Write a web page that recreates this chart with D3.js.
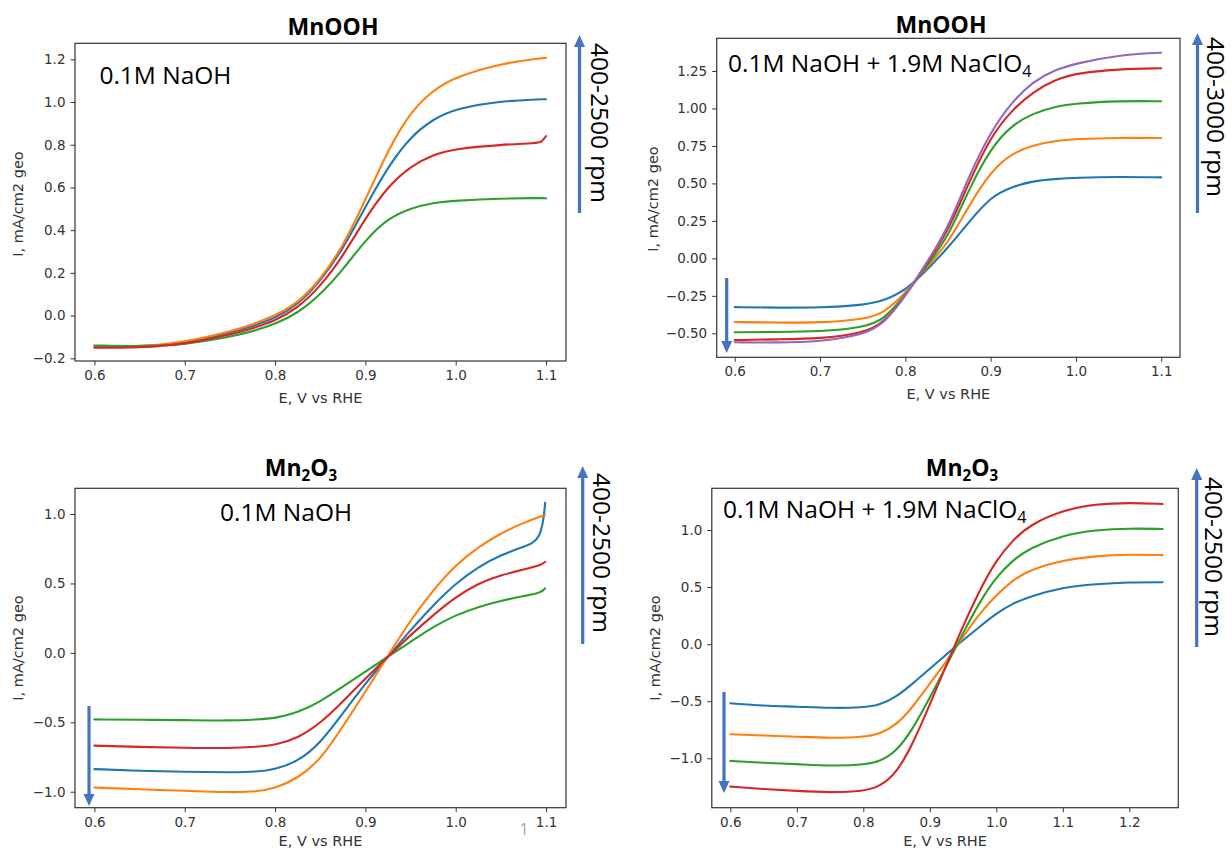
<!DOCTYPE html>
<html><head><meta charset="utf-8">
<script src="https://cdn.jsdelivr.net/npm/d3@7"></script>
<style>body{margin:0;background:#fff} svg{display:block}</style>
</head><body><svg id="c" width="1232" height="850"></svg>
<script>
// ---------- DATA ----------
// Panel A: MnOOH, 0.1M NaOH
const eA = [0.6,0.65,0.7,0.75,0.775,0.8,0.825,0.85,0.875,0.9,0.925,0.95,0.975,1.0,1.05,1.09,1.095,1.1];
const aBlue   = [-0.145,-0.145,-0.13,-0.082,-0.05,-0.012,0.05,0.16,0.31,0.51,0.697,0.838,0.92,0.97,1.005,1.012,1.013,1.013];
const aOrange = [-0.145,-0.145,-0.125,-0.075,-0.042,0.0,0.058,0.167,0.323,0.541,0.775,0.955,1.056,1.118,1.18,1.203,1.205,1.207];
const aGreen  = [-0.14,-0.145,-0.137,-0.1,-0.074,-0.04,0.011,0.097,0.214,0.354,0.456,0.503,0.529,0.538,0.549,0.55,0.55,0.549];
const aRed    = [-0.15,-0.15,-0.135,-0.09,-0.06,-0.025,0.035,0.136,0.277,0.457,0.605,0.699,0.754,0.782,0.8,0.808,0.812,0.84];

// Panel B: MnOOH, 0.1M NaOH + 1.9M NaClO4
const eB = [0.6,0.65,0.7,0.75,0.775,0.8,0.825,0.85,0.875,0.9,0.925,0.95,0.975,1.0,1.05,1.1];
const bBlue   = [-0.325,-0.329,-0.329,-0.313,-0.282,-0.215,-0.08,0.07,0.245,0.411,0.478,0.516,0.529,0.538,0.545,0.54];
const bOrange = [-0.425,-0.429,-0.429,-0.407,-0.367,-0.233,-0.06,0.1,0.356,0.578,0.701,0.756,0.783,0.797,0.805,0.803];
const bGreen  = [-0.493,-0.491,-0.489,-0.462,-0.411,-0.244,-0.05,0.14,0.467,0.734,0.89,0.968,1.012,1.034,1.05,1.048];
const bRed    = [-0.545,-0.54,-0.536,-0.5,-0.433,-0.251,-0.04,0.18,0.512,0.812,0.99,1.112,1.19,1.235,1.263,1.268];
const bPurple = [-0.56,-0.562,-0.556,-0.511,-0.438,-0.251,-0.03,0.2,0.556,0.845,1.045,1.18,1.257,1.3,1.357,1.372];

// Panel C: Mn2O3, 0.1M NaOH
const eC = [0.6,0.65,0.7,0.75,0.78,0.8,0.825,0.85,0.875,0.9,0.925,0.95,0.975,1.0,1.025,1.05,1.075,1.095,1.099];
const cBlue   = [-0.837,-0.85,-0.856,-0.861,-0.857,-0.839,-0.784,-0.652,-0.436,-0.22,-0.028,0.164,0.344,0.5,0.62,0.705,0.764,0.81,1.08];
const cOrange = [-0.97,-0.983,-0.993,-1.005,-1.0,-0.976,-0.904,-0.772,-0.532,-0.28,-0.02,0.236,0.452,0.633,0.764,0.861,0.937,0.985,0.993];
const cGreen  = [-0.479,-0.482,-0.484,-0.489,-0.479,-0.472,-0.431,-0.352,-0.244,-0.136,-0.028,0.08,0.188,0.272,0.332,0.375,0.409,0.433,0.465];
const cRed    = [-0.668,-0.678,-0.683,-0.688,-0.676,-0.664,-0.616,-0.508,-0.352,-0.184,-0.028,0.128,0.272,0.404,0.5,0.56,0.6,0.633,0.656];

// Panel D: Mn2O3, 0.1M NaOH + 1.9M NaClO4
const eD = [0.6,0.65,0.7,0.75,0.8,0.825,0.85,0.875,0.9,0.925,0.95,0.975,1.0,1.025,1.05,1.1,1.15,1.2,1.25];
const dBlue   = [-0.518,-0.54,-0.547,-0.561,-0.556,-0.532,-0.46,-0.343,-0.215,-0.09,0.035,0.153,0.27,0.358,0.416,0.498,0.527,0.542,0.542];
const dOrange = [-0.79,-0.8,-0.81,-0.824,-0.815,-0.786,-0.708,-0.547,-0.343,-0.153,0.066,0.27,0.431,0.562,0.65,0.737,0.772,0.787,0.78];
const dGreen  = [-1.023,-1.04,-1.05,-1.067,-1.058,-1.029,-0.941,-0.737,-0.47,-0.19,0.1,0.37,0.59,0.737,0.84,0.956,1.0,1.015,1.009];
const dRed    = [-1.248,-1.27,-1.286,-1.3,-1.29,-1.248,-1.13,-0.868,-0.53,-0.18,0.16,0.475,0.737,0.912,1.044,1.175,1.228,1.239,1.228];

// tick values
const xTicksABC = [0.6,0.7,0.8,0.9,1.0,1.1];
const xTicksD = [0.6,0.7,0.8,0.9,1.0,1.1,1.2];
const yTicksA = [-0.2,0.0,0.2,0.4,0.6,0.8,1.0,1.2];
const yTicksB = [-0.5,-0.25,0.0,0.25,0.5,0.75,1.0,1.25];
const yTicksCD = [-1.0,-0.5,0.0,0.5,1.0];

const titles = ["MnOOH","MnOOH","Mn2O3","Mn2O3"];
const notes = ["0.1M NaOH","0.1M NaOH + 1.9M NaClO4","0.1M NaOH","0.1M NaOH + 1.9M NaClO4"];
const rpmLabels = ["400-2500 rpm","400-3000 rpm","400-2500 rpm","400-2500 rpm"];
const xLabel = "E, V vs RHE";
const yLabel = "I, mA/cm2 geo";

// ---------- STYLE ----------
const C = {blue:"#1f77b4", orange:"#ff7f0e", green:"#2ca02c", red:"#d62728", purple:"#9467bd"};
const ARROW = "#4472c4";
const svg = d3.select("#c");

function subText(t, str, size){
  // digits directly following a letter are drawn as subscripts (Mn2O3, NaClO4)
  const tokens = [];
  let buf = "";
  for (let i=0;i<str.length;i++){
    const ch = str[i];
    const prev = str[i-1]||"";
    const isSub = /\d/.test(ch) && /[A-Za-z]/.test(prev);
    if (isSub){ if(buf) tokens.push({t:buf,s:false}); buf=""; tokens.push({t:ch,s:true}); }
    else buf += ch;
  }
  if(buf) tokens.push({t:buf,s:false});
  let down = false;
  tokens.forEach(tk=>{
    const ts = t.append("tspan").text(tk.t);
    if (tk.s){ ts.attr("font-size", size*0.66).attr("dy", size*0.22); down = true; }
    else if (down){ ts.attr("dy", -size*0.22); down = false; }
  });
}

function arrow(x, y0, y1){
  const dir = Math.sign(y1 - y0);
  const headL = 12, headW = 5.5;
  svg.append("line").attr("x1",x).attr("x2",x).attr("y1",y0).attr("y2",y1 - dir*headL)
    .attr("stroke",ARROW).attr("stroke-width",3.2);
  svg.append("path").attr("d",`M${x},${y1} L${x-headW},${y1-dir*headL} L${x+headW},${y1-dir*headL} Z`)
    .attr("fill",ARROW);
}

function panel(cfg){
  const x = d3.scaleLinear().domain(cfg.xd).range([cfg.l, cfg.r]);
  const y = d3.scaleLinear().domain(cfg.yd).range([cfg.b, cfg.t]);
  const g = svg.append("g");
  const fmt = d3.format(cfg.fmt);

  const xa = g.append("g").attr("transform",`translate(0,${cfg.b})`)
    .call(d3.axisBottom(x).tickValues(cfg.xt).tickFormat(d3.format(".1f")).tickSize(4.5).tickPadding(5));
  const ya = g.append("g").attr("transform",`translate(${cfg.l},0)`)
    .call(d3.axisLeft(y).tickValues(cfg.yt).tickFormat(fmt).tickSize(4.5).tickPadding(5));
  [xa,ya].forEach(a=>{
    a.select(".domain").remove();
    a.selectAll("line").attr("stroke","#333");
    a.selectAll("text").attr("font-family","DejaVu Sans").attr("font-size",13.5).attr("fill","#333");
  });

  const line = d3.line().x(d=>x(d[0])).y(d=>y(d[1])).curve(d3.curveBasis);
  cfg.series.forEach(s=>{
    g.append("path").datum(cfg.e.map((e,i)=>[e,s.v[i]]))
      .attr("d",line).attr("fill","none").attr("stroke",s.c).attr("stroke-width",2.1)
      .attr("stroke-linejoin","round").attr("stroke-linecap","round");
  });

  g.append("rect").attr("x",cfg.l).attr("y",cfg.t).attr("width",cfg.r-cfg.l).attr("height",cfg.b-cfg.t)
    .attr("fill","none").attr("stroke","#333").attr("stroke-width",1.2);

  g.append("text").attr("x",(cfg.l+cfg.r)/2).attr("y",cfg.xly).attr("text-anchor","middle")
    .attr("font-family","DejaVu Sans").attr("font-size",14.5).attr("fill","#333").text(xLabel);
  g.append("text").attr("transform",`translate(${cfg.ylx},${cfg.yly}) rotate(-90)`)
    .attr("text-anchor","middle").attr("dominant-baseline","central")
    .attr("font-family","DejaVu Sans").attr("font-size",14.5).attr("fill","#333").text(yLabel);

  const tt = g.append("text").attr("x",cfg.tx).attr("y",cfg.ty).attr("text-anchor","middle")
    .attr("font-family","Open Sans").attr("font-weight","bold").attr("font-size",23).attr("fill","#000");
  subText(tt, cfg.title, 23);

  const nt = g.append("text").attr("x",cfg.nx).attr("y",cfg.ny).attr("text-anchor",cfg.na)
    .attr("font-family","Open Sans").attr("font-size",24.5).attr("fill","#000");
  subText(nt, cfg.note, 24.5);

  g.append("text").attr("transform",`translate(${cfg.rx},${cfg.ry}) rotate(90)`)
    .attr("text-anchor","middle").attr("dominant-baseline","central")
    .attr("font-family","Open Sans").attr("font-size",24.5).attr("fill","#000").text(cfg.rpm);

  arrow(cfg.ua[0], cfg.ua[1], cfg.ua[2]);
  if (cfg.da) arrow(cfg.da[0], cfg.da[1], cfg.da[2]);
}

panel({l:75,r:566,t:43.3,b:361, xd:[0.5785,1.1221], yd:[-0.2126,1.275], xt:xTicksABC, yt:yTicksA, fmt:".1f",
  e:eA, series:[{v:aBlue,c:C.blue},{v:aOrange,c:C.orange},{v:aGreen,c:C.green},{v:aRed,c:C.red}],
  xly:403, ylx:18, yly:204, tx:333, ty:35, title:titles[0],
  nx:99.4, ny:84, na:"start", note:notes[0], rx:600, ry:123, rpm:rpmLabels[0], ua:[579.5,213,35]});

panel({l:716.7,r:1180,t:38.3,b:357.3, xd:[0.5789,1.122], yd:[-0.66,1.468], xt:xTicksABC, yt:yTicksB, fmt:".2f",
  e:eB, series:[{v:bBlue,c:C.blue},{v:bOrange,c:C.orange},{v:bGreen,c:C.green},{v:bRed,c:C.red},{v:bPurple,c:C.purple}],
  xly:399, ylx:653, yly:199, tx:941, ty:33, title:titles[1],
  nx:728, ny:72, na:"start", note:notes[1], rx:1216, ry:117, rpm:rpmLabels[1], ua:[1197.5,213,33], da:[726.7,278,353]});

panel({l:75,r:566,t:488.3,b:807.7, xd:[0.5785,1.1221], yd:[-1.115,1.185], xt:xTicksABC, yt:yTicksCD, fmt:".1f",
  e:eC, series:[{v:cBlue,c:C.blue},{v:cOrange,c:C.orange},{v:cGreen,c:C.green},{v:cRed,c:C.red}],
  xly:846, ylx:18, yly:648, tx:301, ty:476, title:titles[2],
  nx:286, ny:521, na:"middle", note:notes[2], rx:602, ry:553, rpm:rpmLabels[2], ua:[582.7,644,466], da:[89,706,806]});

panel({l:711.8,r:1178.3,t:488.3,b:807.7, xd:[0.5722,1.2736], yd:[-1.4328,1.3653], xt:xTicksD, yt:yTicksCD, fmt:".1f",
  e:eD, series:[{v:dBlue,c:C.blue},{v:dOrange,c:C.orange},{v:dGreen,c:C.green},{v:dRed,c:C.red}],
  xly:846, ylx:655, yly:648, tx:962, ty:476, title:titles[3],
  nx:723, ny:518, na:"start", note:notes[3], rx:1214, ry:557, rpm:rpmLabels[3], ua:[1196.7,647,468], da:[724,692,793]});

svg.append("text").attr("x",524).attr("y",835).attr("text-anchor","middle")
  .attr("font-family","Open Sans").attr("font-size",16).attr("fill","#a6a6a6").text("1");
</script>
</body></html>
